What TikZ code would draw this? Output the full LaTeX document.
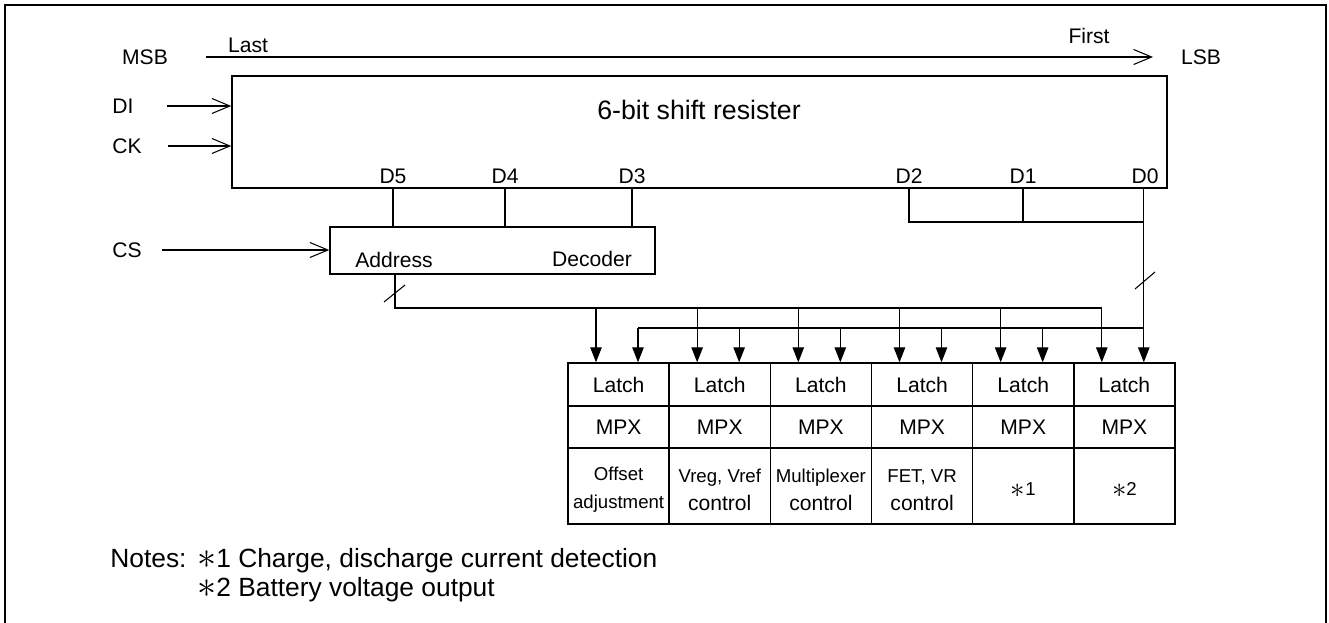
\documentclass[tikz,border=0pt]{standalone}
\usepackage{graphicx}
\usepackage{fontspec}
\setmainfont{Liberation Sans}
\usetikzlibrary{arrows.meta}
\usetikzlibrary{calc}
\newcommand{\ctrltxt}{{\fontsize{12}{16}\selectfont control}}
\newcommand{\notestar}{\raisebox{-0.07em}{\scalebox{1.5}{$\ast$}}}

\begin{document}
\begin{tikzpicture}[x=0.2mm, y=-0.2mm,
  box/.style={draw, line width=0.8pt, inner sep=0pt},
  cell/.style={draw, line width=0.8pt, inner sep=0pt, minimum width=20.23mm},
  lbl/.style={inner sep=0pt, font=\fontsize{12}{14}\selectfont},
  wire/.style={line width=0.6pt},
  barb/.style={-{Straight Barb[length=3.6mm,width=3mm]}},
  tri/.style={-{Triangle[length=3mm,width=2.3mm]}}]

\useasboundingbox (0,0) rectangle (1329,623);
\draw[line width=1.3pt] (5,640) -- (5,5) -- (1326,5) -- (1326,640);

% bit order
\node[lbl] (msb) at (145,57) {MSB};
\node[lbl] (lsb) at (1201,57) {LSB};
\coordinate (last) at (206,57);
\coordinate (first) at (1153,57);
\draw[wire,barb] (last) -- (first);
\node[lbl] (lasttxt) at (248,45) {Last};
\node[lbl] (firsttxt) at (1089,36) {First};

% shift register
\node[box, minimum width=187mm, minimum height=22.4mm] (sr) at (699.5,132) {};
\node[inner sep=0pt, font=\fontsize{15.2}{18}\selectfont] (srtxt) at (699,110) {6-bit shift resister};

\node[lbl, anchor=west] (di) at (112,106) {DI};
\node[lbl, anchor=west] (ck) at (112,146) {CK};
\node[lbl, anchor=west] (cs) at (112,250) {CS};
\coordinate (diin) at (167,106);
\coordinate (ckin) at (168,146);
\coordinate (csin) at (162,250);

\node[lbl] (d5) at (393,176) {D5};
\node[lbl] (d4) at (505,176) {D4};
\node[lbl] (d3) at (632,176) {D3};
\node[lbl] (d2) at (909,176) {D2};
\node[lbl] (d1) at (1023,176) {D1};
\node[lbl] (d0) at (1145,176) {D0};

% decoder
\node[box, minimum width=65mm, minimum height=9.4mm] (dec) at (492.5,250.5) {};
\node[lbl] (addr) at (394,260) {Address};
\node[lbl] (deco) at (592,259) {Decoder};

\draw[wire,barb] (diin) -- (diin -| sr.west);
\draw[wire,barb] (ckin) -- (ckin -| sr.west);
\draw[wire,barb] (csin) -- (csin -| dec.west);

\draw[wire] (d5 |- sr.south) -- (d5 |- dec.north);
\draw[wire] (d4 |- sr.south) -- (d4 |- dec.north);
\draw[wire] (d3 |- sr.south) -- (d3 |- dec.north);

% latches
\foreach \i/\x/\txt in {1/618.6/{Offset\\adjustment}, 2/719.75/{Vreg, Vref\\\ctrltxt},
    3/820.9/{Multiplexer\\\ctrltxt}, 4/922.1/{FET, VR\\\ctrltxt},
    5/1023.25/{\notestar1}, 6/1124.4/{\notestar2}} {
  \node[cell, minimum height=8.6mm, font=\fontsize{12}{14}\selectfont] (lt\i) at (\x,384.5) {Latch};
  \node[cell, minimum height=8.4mm, font=\fontsize{12}{14}\selectfont] (mx\i) at (\x,427) {MPX};
  \node[cell, minimum height=15.2mm] (fn\i) at (\x,486) {};
  \node[inner sep=0pt, align=center, font=\fontsize{10.6}{16}\selectfont] (fntxt\i) at (\x,490) {\txt};
  \coordinate (ab\i) at (\x-22.6,308);
  \coordinate (db\i) at (\x+19.4,328);
}

% address bus
\coordinate (aout) at (395,308);
\draw[wire] (aout |- dec.south) -- (aout) -- (ab6);
\draw[wire] (384,302) -- (405,285);
\foreach \i in {1,...,6}
  \draw[wire,tri] (ab\i) -- (ab\i |- lt\i.north);

% data bus
\coordinate (dj) at (1144,222);
\draw[wire] (d2 |- sr.south) -- (d2 |- dj) -- (dj);
\draw[wire] (d1 |- sr.south) -- (d1 |- dj);
\draw[wire,tri] (db6 |- sr.south) -- (db6 |- lt6.north);
\draw[wire] (1135,289) -- (1155,272);
\draw[wire] (db1) -- (db6);
\foreach \i in {1,...,5}
  \draw[wire,tri] (db\i) -- (db\i |- lt\i.north);

% notes
\node[inner sep=0pt, anchor=base west, font=\fontsize{15}{18}\selectfont] (notes) at (110,567) {Notes:};
\node[inner sep=0pt, anchor=base west, font=\fontsize{15}{18}\selectfont] (note1) at (197,567) {\notestar1 Charge, discharge current detection};
\node[inner sep=0pt, anchor=base west, font=\fontsize{15}{18}\selectfont] (note2) at (197,596) {\notestar2 Battery voltage output};
\end{tikzpicture}
\end{document}
